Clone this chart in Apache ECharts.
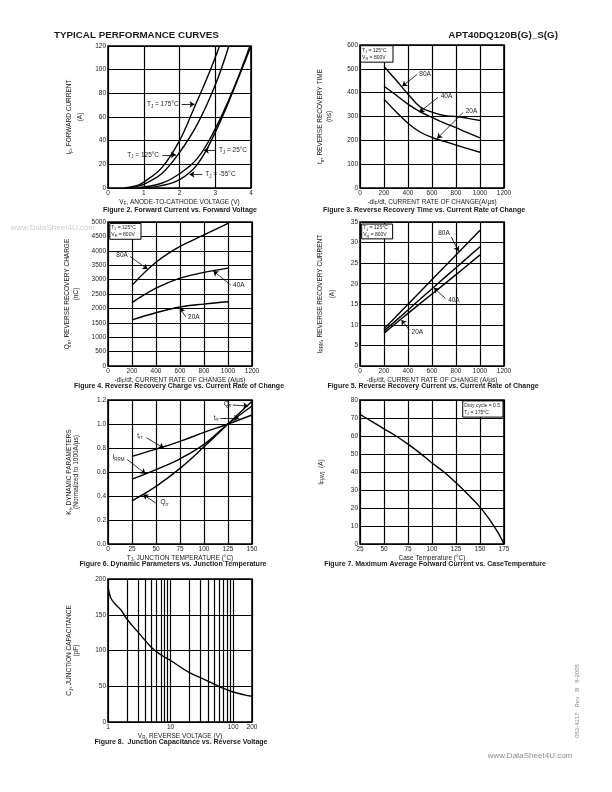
<!DOCTYPE html>
<html>
<head>
<meta charset="utf-8">
<script src="https://cdn.jsdelivr.net/npm/echarts@6/dist/echarts.min.js"></script>
<style>
html, body { margin: 0; padding: 0; background: #fff; }
#main { width: 612px; height: 792px; }
</style>
</head>
<body>
<div id="main"></div>
<script>
// Figure 2 - forward current vs forward voltage
const vf175 = [0.45, 0.8, 1.0, 1.5, 2.0, 2.4, 2.8, 3.12]
const if175 = [0, 2, 5, 17, 40, 67, 95, 120]
const vf125 = [0.55, 0.9, 1.0, 1.5, 2.0, 2.5, 3.0, 3.38]
const if125 = [0, 2, 3, 12, 30, 54, 87, 120]
const vf25 = [0.8, 1.5, 2.0, 2.5, 3.0, 3.5, 3.97]
const if25 = [0, 4, 12, 25, 50, 83, 120]
const vfm55 = [0.95, 1.5, 2.0, 2.5, 3.0, 3.5, 4.0]
const ifm55 = [0, 2, 7, 20, 47, 82, 120]

// Figure 3 - trr vs -diF/dt
const rateFine = [200, 300, 400, 500, 600, 700, 800, 900, 1000]
const trr80 = [510, 453, 394, 341, 318, 304, 300, 292, 283]
const trr40 = [427, 390, 352, 320, 296, 273, 253, 231, 210]
const trr20 = [373, 320, 272, 235, 212, 196, 180, 165, 150]

// Figure 4 / 5 - Qrr and IRRM vs -diF/dt
const rate = [200, 400, 600, 800, 1000]
const qrr80 = [2800, 3600, 4150, 4550, 4950]
const qrr40 = [2200, 2700, 3050, 3250, 3400]
const qrr20 = [1600, 1850, 2050, 2150, 2230]
const irrm80 = [9, 15, 21, 27, 33]
const irrm40 = [8.5, 13.6, 18.8, 23.9, 29]
const irrm20 = [8, 12.8, 17.5, 22.2, 27]

// Figure 6 - dynamic parameters vs junction temperature
const tj = [25, 50, 75, 100, 125, 150]
const kTrr = [0.73, 0.79, 0.855, 0.93, 1.0, 1.075]
const kIrrm = [0.54, 0.62, 0.71, 0.83, 1.0, 1.15]
const kQrr = [0.36, 0.48, 0.63, 0.81, 1.0, 1.19]

// Figure 7 - max average forward current vs case temperature
const caseT = [25, 37.5, 50, 62.5, 75, 87.5, 100, 112.5, 125, 137.5, 150, 160, 165, 170, 175]
const ifAv = [72, 68, 64, 60, 55.5, 50.5, 45, 40, 34, 27.5, 20.5, 13.5, 9.5, 5.2, 0]

// Figure 8 - junction capacitance vs reverse voltage
const vr = [1, 1.1, 1.3, 1.6, 2, 3, 5, 7, 10, 20, 30, 50, 70, 100, 150, 200]
const cj = [190, 174, 165, 157, 144, 126, 104, 94, 86, 69, 62, 53, 47, 42, 38, 36]
const logMinor = [2, 3, 4, 5, 6, 7, 8, 9, 20, 30, 40, 50, 60, 70, 80, 90]

const font = 'Liberation Sans'
const ink = '#1a1a1a'
const rich = {
    n: { fontSize: 6.5, fontFamily: font, color: ink },
    s: { fontSize: 4.5, fontFamily: font, color: ink, padding: [4, 0, 0, 0] }
}
const richSmall = {
    n: { fontSize: 5, fontFamily: font, color: ink },
    s: { fontSize: 3.8, fontFamily: font, color: ink, padding: [3, 0, 0, 0] }
}

const chart = echarts.init(document.getElementById('main'), null, { width: 612, height: 792 })

const grid = [
    { left: 108, top: 46, width: 143, height: 142 },
    { left: 360, top: 45, width: 144, height: 143 },
    { left: 108, top: 222, width: 144, height: 144 },
    { left: 360, top: 222, width: 144, height: 144 },
    { left: 108, top: 400, width: 144, height: 144 },
    { left: 360, top: 400, width: 144, height: 144 },
    { left: 108, top: 579, width: 144, height: 143 }
].map(g => Object.assign({ show: true, borderColor: '#000', borderWidth: 1.6, backgroundColor: 'transparent' }, g))

function axis(i, type, min, max, interval, name, gap, lineHeight, extra) {
    return Object.assign({
        gridIndex: i,
        type: type,
        min: min,
        max: max,
        interval: interval,
        axisLine: { show: false },
        axisTick: { show: false },
        splitLine: { show: true, lineStyle: { color: '#000', width: 1.2 } },
        axisLabel: { fontSize: 6.5, fontFamily: font, color: ink, margin: 2, formatter: v => String(v) },
        name: name,
        nameLocation: 'middle',
        nameGap: gap,
        nameTextStyle: { rich: rich, fontSize: 6.5, fontFamily: font, color: ink, lineHeight: lineHeight }
    }, extra || {})
}

const rateName = '{n|-di}{s|F}{n|/dt, CURRENT RATE OF CHANGE (A/µs)}'
const xAxis = [
    axis(0, 'value', 0, 4, 1, '{n|V}{s|F}{n|, ANODE-TO-CATHODE VOLTAGE (V)}', 9, 8),
    axis(1, 'value', 0, 1200, 200, '{n|-di}{s|F}{n|/dt, CURRENT RATE OF CHANGE(A/µs)}', 9, 8),
    axis(2, 'value', 0, 1200, 200, rateName, 9, 8),
    axis(3, 'value', 0, 1200, 200, rateName, 9, 8),
    axis(4, 'value', 0, 150, 25, '{n|T}{s|J}{n|, JUNCTION TEMPERATURE (°C)}', 9, 8),
    axis(5, 'value', 25, 175, 25, '{n|Case Temperature (°C)}', 9, 8),
    axis(6, 'log', 1, 200, null, '{n|V}{s|R}{n|, REVERSE VOLTAGE (V)}', 9, 8, { logBase: 10 })
]
const yAxis = [
    axis(0, 'value', 0, 120, 20, '{n|I}{s|F}{n|, FORWARD CURRENT}\n{n|(A)}', 22, 11),
    axis(1, 'value', 0, 600, 100, '{n|t}{s|rr}{n|, REVERSE RECOVERY TIME}\n{n|(ns)}', 26, 9),
    axis(2, 'value', 0, 5000, 500, '{n|Q}{s|rr}{n|, REVERSE RECOVERY CHARGE}\n{n|(nC)}', 27, 9),
    axis(3, 'value', 0, 35, 5, '{n|I}{s|RRM}{n|, REVERSE RECOVERY CURRENT}\n{n|(A)}', 22, 12),
    axis(4, 'value', 0, 1.2, 0.2, '{n|K}{s|f}{n|, DYNAMIC PARAMETERS}\n{n|(Normalized to 1000A/µs)}', 28, 7,
        { axisLabel: { fontSize: 6.5, fontFamily: font, color: ink, margin: 2, formatter: v => v.toFixed(1) } }),
    axis(5, 'value', 0, 80, 10, '{n|I}{s|F(AV)}{n|  (A)}', 35, 8),
    axis(6, 'value', 0, 200, 50, '{n|C}{s|J}{n|, JUNCTION CAPACITANCE}\n{n|(pF)}', 28, 7)
]

const series = []
function curve(i, xs, ys, extra) {
    series.push(Object.assign({
        type: 'line',
        xAxisIndex: i,
        yAxisIndex: i,
        data: xs.map((x, k) => [x, ys[k]]),
        smooth: 0.4,
        showSymbol: false,
        symbol: 'none',
        silent: true,
        animation: false,
        lineStyle: { color: '#000', width: 1.4 }
    }, extra || {}))
}

// labels with arrows, in data units of their chart
function notes(list) {
    return {
        markPoint: {
            symbol: 'circle', symbolSize: 1, silent: true, animation: false,
            itemStyle: { color: 'rgba(0,0,0,0)' },
            label: { show: true, fontSize: 6.5, fontFamily: font, color: ink, rich: rich, distance: 1 },
            data: list.map(n => ({ coord: n.at, label: { formatter: n.text, position: n.side } }))
        },
        markLine: {
            symbol: ['none', 'arrow'], symbolSize: 5, silent: true, animation: false,
            label: { show: false },
            lineStyle: { color: '#000', width: 0.8, type: 'solid' },
            data: list.map(n => [{ coord: n.from }, { coord: n.to }])
        }
    }
}
function box(x1, y1, x2, y2, text) {
    return {
        markArea: {
            silent: true, animation: false,
            itemStyle: { color: '#fff', borderColor: '#000', borderWidth: 1 },
            label: { show: true, position: 'insideLeft', distance: 2, formatter: text, rich: richSmall, lineHeight: 7 },
            data: [[{ coord: [x1, y1] }, { coord: [x2, y2] }]]
        }
    }
}
const condBox = '{n|T}{s|J}{n| = 125°C}\n{n|V}{s|R}{n| = 800V}'

// Figure 2
curve(0, vf175, if175, notes([
    { text: '{n|T}{s|J}{n| = 175°C}', at: [2.02, 70.7], side: 'left', from: [2.06, 70.7], to: [2.42, 70.7] },
    { text: '{n|T}{s|J}{n| = 125°C}', at: [1.47, 28], side: 'left', from: [1.52, 28], to: [1.9, 28] },
    { text: '{n|T}{s|J}{n| = 25°C}', at: [3.06, 31.8], side: 'right', from: [3.0, 31.8], to: [2.68, 31.8] },
    { text: '{n|T}{s|J}{n| = -55°C}', at: [2.68, 11.5], side: 'right', from: [2.64, 11.5], to: [2.28, 11.5] }
]))
curve(0, vf125, if125)
curve(0, vf25, if25)
curve(0, vfm55, ifm55)

// Figure 3
curve(1, rateFine, trr80, Object.assign(notes([
    { text: '{n|80A}', at: [482, 479], side: 'right', from: [475, 476], to: [352, 427] },
    { text: '{n|40A}', at: [660, 385], side: 'right', from: [650, 380], to: [495, 318] },
    { text: '{n|20A}', at: [868, 321], side: 'right', from: [860, 317], to: [643, 208] }
]), box(5, 528, 275, 597, condBox)))
curve(1, rateFine, trr40)
curve(1, rateFine, trr20)

// Figure 4
curve(2, rate, qrr80, Object.assign(notes([
    { text: '{n|80A}', at: [178, 3830], side: 'left', from: [185, 3800], to: [330, 3360] },
    { text: '{n|40A}', at: [1030, 2790], side: 'right', from: [1022, 2810], to: [878, 3300] },
    { text: '{n|20A}', at: [655, 1690], side: 'right', from: [648, 1710], to: [598, 2010] }
]), box(15, 4400, 275, 4950, condBox)))
curve(2, rate, qrr40)
curve(2, rate, qrr20)

// Figure 5
curve(3, rate, irrm80, Object.assign(notes([
    { text: '{n|80A}', at: [639, 32.3], side: 'right', from: [760, 31.4], to: [822, 27.9] },
    { text: '{n|40A}', at: [722, 16], side: 'right', from: [712, 16.4], to: [617, 19.0] },
    { text: '{n|20A}', at: [417, 8.3], side: 'right', from: [410, 8.8], to: [345, 11.2] }
]), box(14, 30.9, 272, 34.5, condBox)))
curve(3, rate, irrm40)
curve(3, rate, irrm20)

// Figure 6
curve(4, tj, kTrr, notes([
    { text: '{n|t}{s|rr}', at: [29, 0.9], side: 'right', from: [40, 0.885], to: [58, 0.80] },
    { text: '{n|I}{s|RRM}', at: [3, 0.72], side: 'right', from: [20, 0.705], to: [39, 0.585] },
    { text: '{n|Q}{s|rr}', at: [53, 0.345], side: 'right', from: [51, 0.335], to: [36.5, 0.412] },
    { text: '{n|Q}{s|rr}', at: [119, 1.165], side: 'right', from: [130, 1.158], to: [146, 1.15] },
    { text: '{n|t}{s|rr}', at: [108.5, 1.05], side: 'right', from: [117, 1.05], to: [136.5, 1.05] }
]))
curve(4, tj, kIrrm)
curve(4, tj, kQrr)

// Figure 7
curve(5, caseT, ifAv, box(132, 70.5, 174, 79.5, '{n|Duty cycle = 0.5}\n{n|T}{s|J}{n| = 175°C}'))

// Figure 8
curve(6, vr, cj, {
    markLine: {
        symbol: ['none', 'none'], silent: true, animation: false,
        label: { show: false },
        lineStyle: { color: '#000', width: 1.2, type: 'solid' },
        data: logMinor.map(v => ({ xAxis: v }))
    }
})

function txt(t, x, y, size, opts) {
    opts = opts || {}
    return {
        type: 'text', x: x, y: y, rotation: opts.rotation || 0, silent: true,
        style: {
            text: t, fill: opts.fill || ink,
            font: (opts.bold ? 'bold ' : '') + size + 'px "' + font + '"',
            align: opts.align || 'center', textAlign: opts.align || 'center',
            verticalAlign: 'middle', textVerticalAlign: 'middle'
        }
    }
}

const graphic = [
    txt('TYPICAL PERFORMANCE CURVES', 54, 35, 9.8, { bold: true, align: 'left' }),
    txt('APT40DQ120B(G)_S(G)', 558, 35, 9.9, { bold: true, align: 'right' }),
    txt('Figure 2. Forward Current vs. Forward Voltage', 180, 210, 7, { bold: true }),
    txt('Figure 3. Reverse Recovery Time vs. Current Rate of Change', 424, 210, 7, { bold: true }),
    txt('Figure 4. Reverse Recovery Charge vs. Current Rate of Change', 179, 386, 7, { bold: true }),
    txt('Figure 5. Reverse Recovery Current vs. Current Rate of Change', 433, 386, 7, { bold: true }),
    txt('Figure 6. Dynamic Parameters vs. Junction Temperature', 173, 564, 7, { bold: true }),
    txt('Figure 7. Maximum Average Forward Current vs. CaseTemperature', 435, 564, 7, { bold: true }),
    txt('Figure 8.  Junction Capacitance vs. Reverse Voltage', 181, 742, 7, { bold: true }),
    txt('www.DataSheet4U.com', 95, 228, 8, { align: 'right', fill: '#cfcfcf' }),
    txt('www.DataSheet4U.com', 530, 756, 8, { fill: '#8a8a8a' }),
    txt('053-4217   Rev   B   8-2005', 577, 701, 6, { fill: '#8a8a8a', rotation: Math.PI / 2 })
]

chart.setOption({
    animation: false,
    grid: grid,
    xAxis: xAxis,
    yAxis: yAxis,
    series: series,
    graphic: graphic
})
</script>
</body>
</html>
